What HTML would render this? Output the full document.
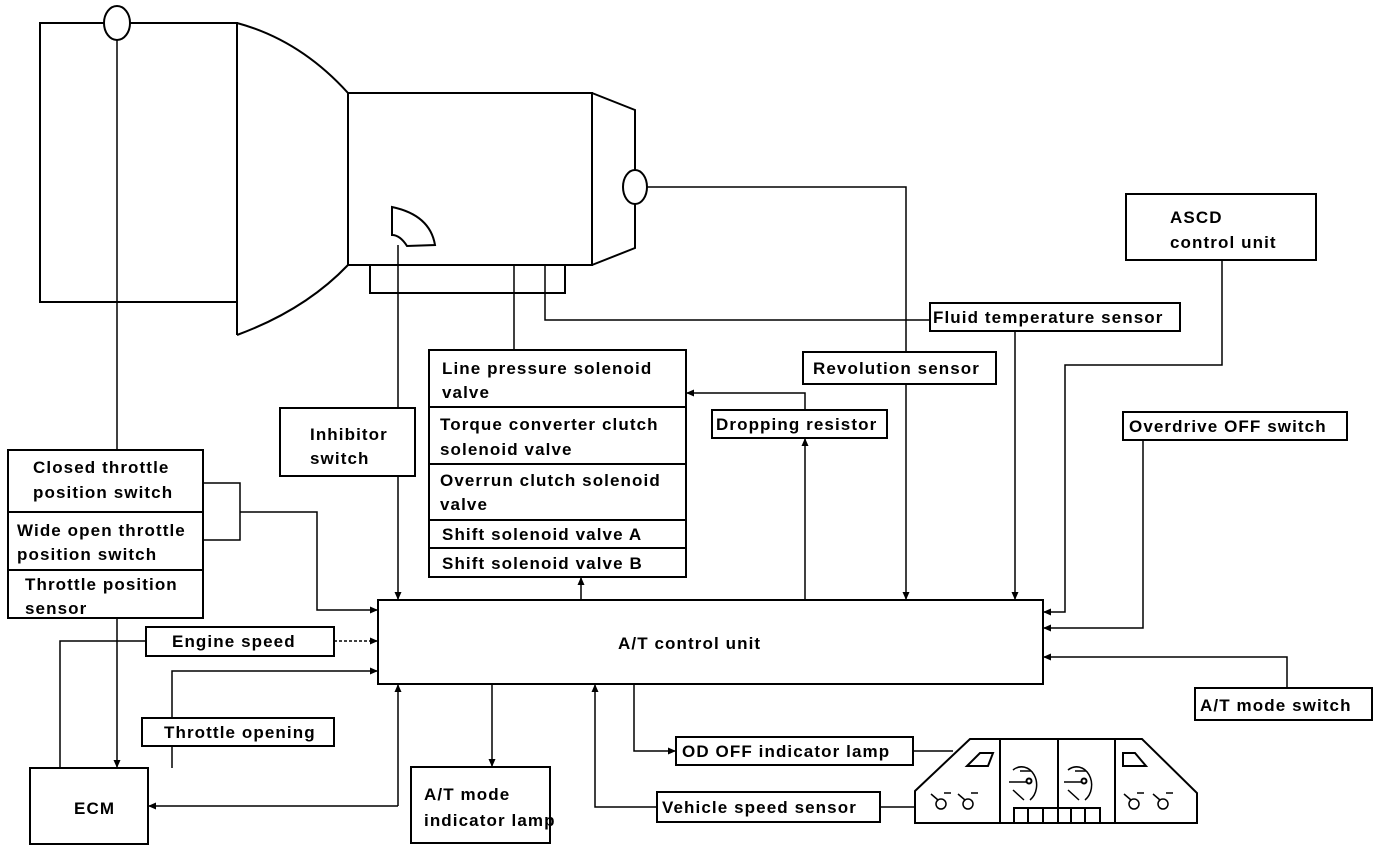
<!DOCTYPE html>
<html><head><meta charset="utf-8"><style>
html,body{margin:0;padding:0;background:#fff;}
svg{display:block;}
text{font-family:"Liberation Sans",sans-serif;font-size:17px;font-weight:bold;fill:#000;letter-spacing:1.1px;}
</style></head><body>
<svg width="1392" height="852" viewBox="0 0 1392 852" xmlns="http://www.w3.org/2000/svg">
<defs>
<marker id="a" markerWidth="8" markerHeight="8" refX="7" refY="4" orient="auto" markerUnits="userSpaceOnUse"><path d="M0,0.5 L8,4 L0,7.5 Z" fill="#000"/></marker>
</defs>
<g fill="none" stroke="#000" stroke-width="2">
<rect x="40" y="23" width="197" height="279"/>
<ellipse cx="117" cy="23" rx="13" ry="17" fill="#fff"/>
<path d="M237,23 Q300,40 348,93"/>
<path d="M237,23 V335"/>
<path d="M237,335 Q305,310 348,265"/>
<rect x="348" y="93" width="244" height="172"/>
<path d="M592,93 L635,110 V248 L592,265"/>
<ellipse cx="635" cy="187" rx="12" ry="17" fill="#fff"/>
<path d="M392,207 Q430,215 435,245 L407,246 Q400,235 392,235 Z"/>
<rect x="370" y="265" width="195" height="28"/>
<rect x="378" y="600" width="665" height="84"/>
<rect x="8" y="450" width="195" height="168"/>
<line x1="8" y1="512" x2="203" y2="512"/>
<line x1="8" y1="570" x2="203" y2="570"/>
<rect x="429" y="350" width="257" height="227"/>
<line x1="429" y1="407" x2="686" y2="407"/>
<line x1="429" y1="464" x2="686" y2="464"/>
<line x1="429" y1="520" x2="686" y2="520"/>
<line x1="429" y1="548" x2="686" y2="548"/>
<rect x="280" y="408" width="135" height="68"/>
<rect x="712" y="410" width="175" height="28"/>
<rect x="803" y="352" width="193" height="32"/>
<rect x="930" y="303" width="250" height="28"/>
<rect x="1126" y="194" width="190" height="66"/>
<rect x="1123" y="412" width="224" height="28"/>
<rect x="1195" y="688" width="177" height="32"/>
<rect x="146" y="627" width="188" height="29"/>
<rect x="142" y="718" width="192" height="28"/>
<rect x="30" y="768" width="118" height="76"/>
<rect x="411" y="767" width="139" height="76"/>
<rect x="657" y="792" width="223" height="30"/>
<rect x="676" y="737" width="237" height="28"/>
</g>
<g fill="none" stroke="#000" stroke-width="1.5">
<line x1="117" y1="40" x2="117" y2="450"/>
<line x1="117" y1="618" x2="117" y2="767" marker-end="url(#a)"/>
<path d="M647,187 H906 V352"/>
<line x1="906" y1="384" x2="906" y2="599" marker-end="url(#a)"/>
<line x1="398" y1="245" x2="398" y2="408"/>
<line x1="398" y1="476" x2="398" y2="599" marker-end="url(#a)"/>
<line x1="514" y1="265" x2="514" y2="350"/>
<path d="M545,265 V320 H930"/>
<line x1="581" y1="600" x2="581" y2="578" marker-end="url(#a)"/>
<path d="M805,600 V439" marker-end="url(#a)"/>
<path d="M805,410 V393 H687" marker-end="url(#a)"/>
<line x1="1015" y1="331" x2="1015" y2="599" marker-end="url(#a)"/>
<path d="M1222,260 V365 H1065 V612 H1044" marker-end="url(#a)"/>
<path d="M1143,440 V628 H1044" marker-end="url(#a)"/>
<path d="M1287,688 V657 H1044" marker-end="url(#a)"/>
<path d="M203,483 H240 V540 H203"/>
<path d="M240,512 H317 V610 H377" marker-end="url(#a)"/>
<path d="M146,641 H60 V768"/>
<line x1="334" y1="641" x2="377" y2="641" stroke-dasharray="3,2" marker-end="url(#a)"/>
<line x1="172" y1="746" x2="172" y2="768"/>
<path d="M172,718 V671 H377" marker-end="url(#a)"/>
<path d="M398,806 V685" marker-end="url(#a)"/>
<path d="M398,806 H149" marker-end="url(#a)"/>
<line x1="492" y1="684" x2="492" y2="766" marker-end="url(#a)"/>
<path d="M657,807 H595 V685" marker-end="url(#a)"/>
<path d="M634,684 V751 H675" marker-end="url(#a)"/>
<line x1="913" y1="751" x2="953" y2="751"/>
<line x1="880" y1="807" x2="915" y2="807"/>
</g>
<g fill="none" stroke="#000" stroke-width="2">
<path d="M915,791 L970,739 H1142 L1197,793 V823 H915 Z"/>
<line x1="1000" y1="739" x2="1000" y2="823"/>
<line x1="1058" y1="739" x2="1058" y2="823"/>
<line x1="1115" y1="739" x2="1115" y2="823"/>
<rect x="1014" y="808" width="86" height="15"/>
<line x1="1028" y1="808" x2="1028" y2="823"/><line x1="1043" y1="808" x2="1043" y2="823"/>
<line x1="1071" y1="808" x2="1071" y2="823"/><line x1="1085" y1="808" x2="1085" y2="823"/>
<path d="M967,766 L980,753 H993 L988,766 Z"/>
<path d="M1123,753 H1135 L1146,766 H1123 Z"/>
<path d="M1013,770 A15,18 0 1 1 1030,800" stroke-width="1.5"/>
<path d="M1068,770 A15,18 0 1 1 1085,800" stroke-width="1.5"/>
<path d="M1009,782 H1026 M1020,771 H1031 M1064,782 H1081 M1075,771 H1086" stroke-width="1.5"/>
<circle cx="1029" cy="781" r="2.5"/><circle cx="1084" cy="781" r="2.5"/>
<path d="M1013,790 L1024,800 M1068,790 L1079,800" stroke-width="1.5"/>
<g stroke-width="1.5">
<circle cx="941" cy="804" r="5"/><circle cx="968" cy="804" r="5"/>
<circle cx="1134" cy="804" r="5"/><circle cx="1163" cy="804" r="5"/>
<path d="M931,794 L938,800 M958,794 L965,800 M1124,794 L1131,800 M1153,794 L1160,800"/>
<path d="M944,793 H951 M971,793 H978 M1137,793 H1144 M1166,793 H1173"/>
</g>
</g>
<text x="33" y="473">Closed throttle</text>
<text x="33" y="498">position switch</text>
<text x="17" y="536">Wide open throttle</text>
<text x="17" y="560">position switch</text>
<text x="25" y="590">Throttle position</text>
<text x="25" y="614">sensor</text>
<text x="310" y="440">Inhibitor</text>
<text x="310" y="464">switch</text>
<text x="442" y="374">Line pressure solenoid</text>
<text x="442" y="398">valve</text>
<text x="440" y="430">Torque converter clutch</text>
<text x="440" y="455">solenoid valve</text>
<text x="440" y="486">Overrun clutch solenoid</text>
<text x="440" y="510">valve</text>
<text x="442" y="540">Shift solenoid valve A</text>
<text x="442" y="569">Shift solenoid valve B</text>
<text x="716" y="430">Dropping resistor</text>
<text x="813" y="374">Revolution sensor</text>
<text x="933" y="323">Fluid temperature sensor</text>
<text x="1170" y="223">ASCD</text>
<text x="1170" y="248">control unit</text>
<text x="1129" y="432">Overdrive OFF switch</text>
<text x="1200" y="711">A/T mode switch</text>
<text x="618" y="649">A/T control unit</text>
<text x="172" y="647">Engine speed</text>
<text x="164" y="738">Throttle opening</text>
<text x="74" y="814">ECM</text>
<text x="424" y="800">A/T mode</text>
<text x="424" y="826">indicator lamp</text>
<text x="662" y="813">Vehicle speed sensor</text>
<text x="682" y="757">OD OFF indicator lamp</text>
</svg>
</body></html>
